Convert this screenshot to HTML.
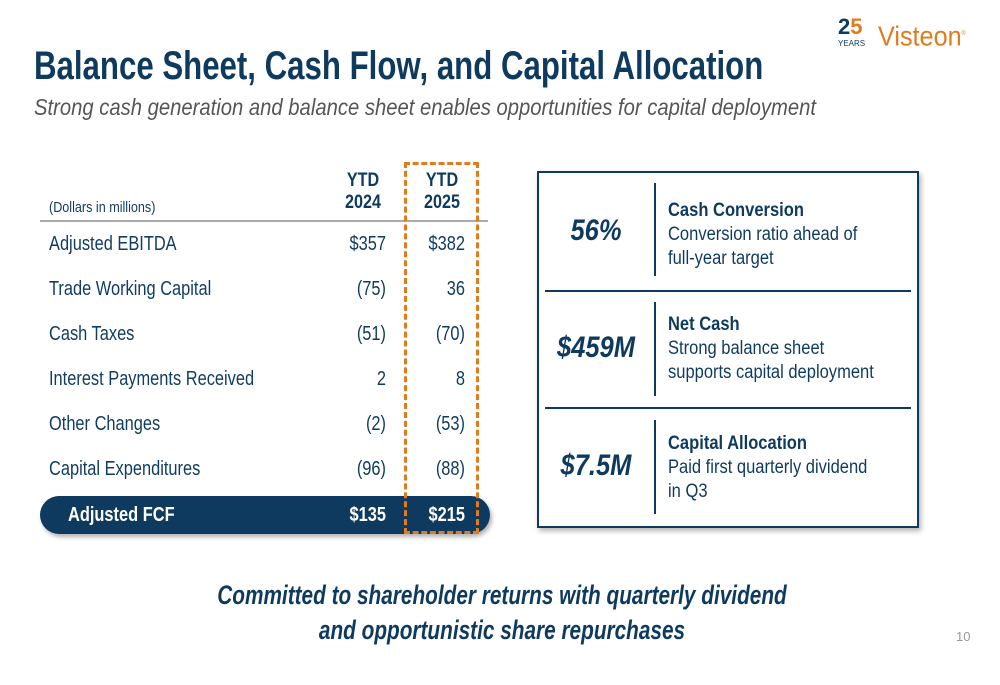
<!DOCTYPE html>
<html><head><meta charset="utf-8"><style>
*{margin:0;padding:0;box-sizing:border-box}
body{width:1000px;height:685px;background:#fff;position:relative;overflow:hidden;font-family:"Liberation Sans",sans-serif;color:#0f3a5f}
.a{position:absolute;white-space:nowrap}
.row{position:absolute;left:49px;font-size:20px;color:#123d63;line-height:24px;white-space:nowrap;transform:scaleX(.82);transform-origin:left}
.v1,.v2{position:absolute;width:80px;text-align:right;font-size:20px;line-height:24px;transform:scaleX(.82);transform-origin:right}
.v1{left:306px}.v2{left:385px}
.big{position:absolute;left:545px;width:102px;text-align:center;font-size:30px;font-weight:bold;font-style:italic;color:#0f3a5f;transform:scaleX(.85)}
.vl{position:absolute;left:654px;width:2px;background:#0f3a5f}
.desc{position:absolute;left:668px;font-size:19px;line-height:24px;color:#0f3a5f;white-space:nowrap;transform:scaleX(.87);transform-origin:left}
.desc b{display:block}
.hl{position:absolute;left:545px;width:366px;height:2px;background:#0f3a5f}
</style></head><body>
<div class="a" style="left:838px;top:16px;font-weight:bold;font-size:22px;color:#0f3a5f;line-height:22px">2<span style="color:#e07b20">5</span></div>
<div class="a" style="left:838px;top:39px;font-size:8px;color:#0f3a5f">YEARS</div>
<div class="a" style="left:878px;top:18px;font-size:28px;color:#e07b20;line-height:32px;transform:scaleX(.9);transform-origin:left">Visteon<sup style="font-size:6px">®</sup></div>
<div class="a" style="left:34px;top:42px;font-size:40px;font-weight:bold;line-height:48px;color:#0f3a5f;transform:scaleX(.78);transform-origin:left">Balance Sheet, Cash Flow, and Capital Allocation</div>
<div class="a" style="left:34px;top:93px;font-size:23px;font-style:italic;color:#555;line-height:28px;transform:scaleX(.88);transform-origin:left">Strong cash generation and balance sheet enables opportunities for capital deployment</div>

<div class="a" style="left:49px;top:199px;font-size:15px;color:#123d63;transform:scaleX(.84);transform-origin:left">(Dollars in millions)</div>
<div class="a" style="left:323px;width:80px;top:170px;text-align:center;font-size:19px;font-weight:bold;line-height:22px;transform:scaleX(.85)">YTD<br>2024</div>
<div class="a" style="left:402px;width:80px;top:170px;text-align:center;font-size:19px;font-weight:bold;line-height:22px;transform:scaleX(.85)">YTD<br>2025</div>
<div class="a" style="left:40px;top:220px;width:448px;height:2px;background:#aaa"></div>

<div>
<div class="row" style="top:232px">Adjusted EBITDA</div><div class="v1" style="top:232px">$357</div><div class="v2" style="top:232px">$382</div>
<div class="row" style="top:277px">Trade Working Capital</div><div class="v1" style="top:277px">(75)</div><div class="v2" style="top:277px">36</div>
<div class="row" style="top:322px">Cash Taxes</div><div class="v1" style="top:322px">(51)</div><div class="v2" style="top:322px">(70)</div>
<div class="row" style="top:367px">Interest Payments Received</div><div class="v1" style="top:367px">2</div><div class="v2" style="top:367px">8</div>
<div class="row" style="top:412px">Other Changes</div><div class="v1" style="top:412px">(2)</div><div class="v2" style="top:412px">(53)</div>
<div class="row" style="top:457px">Capital Expenditures</div><div class="v1" style="top:457px">(96)</div><div class="v2" style="top:457px">(88)</div>
</div>
<div class="a" style="left:40px;top:496px;width:450px;height:38px;border-radius:19px;background:#0f3a5f;box-shadow:2px 3px 4px rgba(0,0,0,.3)"></div>
<div class="row" style="top:503px;left:68px;color:#fff;font-weight:bold">Adjusted FCF</div>
<div class="v1" style="top:503px;color:#fff;font-weight:bold">$135</div>
<div class="v2" style="top:503px;color:#fff;font-weight:bold">$215</div>
<div class="a" style="left:404px;top:162px;width:75px;height:372px;border:3px dashed #e07b20"></div>

<div class="a" style="left:537px;top:171px;width:382px;height:357px;border:2px solid #0f3a5f;box-shadow:2px 3px 5px rgba(0,0,0,.3)"></div>
<div class="hl" style="top:290px"></div><div class="hl" style="top:407px"></div>
<div class="big" style="top:214px">56%</div>
<div class="vl" style="top:183px;height:93px"></div>
<div class="desc" style="top:199px"><b>Cash Conversion</b>Conversion ratio ahead of<br>full-year target</div>
<div class="big" style="top:331px">$459M</div>
<div class="vl" style="top:302px;height:94px"></div>
<div class="desc" style="top:313px"><b>Net Cash</b>Strong balance sheet<br>supports capital deployment</div>
<div class="big" style="top:449px">$7.5M</div>
<div class="vl" style="top:420px;height:94px"></div>
<div class="desc" style="top:432px"><b>Capital Allocation</b>Paid first quarterly dividend<br>in Q3</div>

<div class="a" style="left:0;width:1004px;top:578px;text-align:center;font-size:27px;font-weight:bold;font-style:italic;line-height:35px;color:#0f3a5f;transform:scaleX(.77)">Committed to shareholder returns with quarterly dividend<br>and opportunistic share repurchases</div>
<div class="a" style="left:956px;top:629px;font-size:13px;color:#999">10</div>
</body></html>
